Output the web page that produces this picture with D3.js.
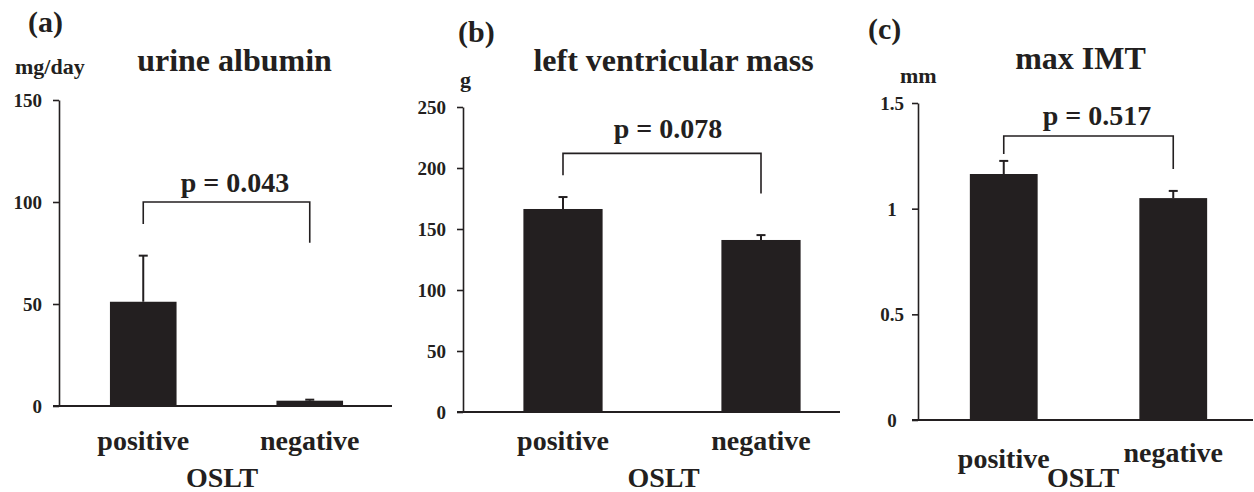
<!DOCTYPE html>
<html>
<head>
<meta charset="utf-8">
<script src="https://cdn.jsdelivr.net/npm/d3@7"></script>
</head>
<body style="margin:0;padding:0;background:#fff">
<svg id="chart" width="1254" height="492"></svg>
<script>
// ---- data ----
const categories = ["positive", "negative"];
const panelLabels = ["(a)", "(b)", "(c)"];
const titles = ["urine albumin", "left ventricular mass", "max IMT"];
const units = ["mg/day", "g", "mm"];
const xAxisTitle = "OSLT";

const albuminMean = [51.1, 2.6];
const albuminSem = [22.6, 0.5];
const lvMassMean = [166.4, 141];
const lvMassSem = [9.8, 4];
const imtMean = [1.164, 1.05];
const imtSem = [0.062, 0.034];

const albuminTicks = [0, 50, 100, 150];
const lvMassTicks = [0, 50, 100, 150, 200, 250];
const imtTicks = [0, 0.5, 1, 1.5];

const pValues = ["p = 0.043", "p = 0.078", "p = 0.517"];
// bracket: [top, left leg end, right leg end] in data units
const albuminBracket = [100, 89.2, 80];
const lvMassBracket = [212, 194, 179];
const imtBracket = [1.344, 1.259, 1.188];

// ---- layout (pixels) ----
const ink = "#231f20";
const FONT = "'Liberation Serif', 'Times New Roman', Times, serif";
const panels = [
  { mean: albuminMean, sem: albuminSem, ticks: albuminTicks, bracket: albuminBracket,
    xRange: [60, 393], axisRight: 392, yRange: [406, 100], tickAnchor: "end", tickX: -17,
    label: [28, 32], unit: [15, 74], title: [234.5, 71], p: [235, 192],
    catY: [450, 450], oslt: [222, 487] },
  { mean: lvMassMean, sem: lvMassSem, ticks: lvMassTicks, bracket: lvMassBracket,
    xRange: [464, 860], axisRight: 840, yRange: [412, 107], tickAnchor: "end", tickX: -17,
    label: [458, 42], unit: [460, 87], title: [673.5, 71], p: [668, 138],
    catY: [450, 450], oslt: [663.5, 487] },
  { mean: imtMean, sem: imtSem, ticks: imtTicks, bracket: imtBracket,
    xRange: [919, 1258], axisRight: 1253, yRange: [420, 103], tickAnchor: "middle", tickX: -26,
    label: [868, 39], unit: [900, 83], title: [1080.5, 69], p: [1097, 125],
    catY: [468, 462], oslt: [1083, 487] }
];

const svg = d3.select("#chart");

function txt(sel, size) {
  return sel.attr("font-family", FONT).attr("font-weight", "bold")
    .attr("font-size", size).attr("fill", ink)
    .style("font-family", FONT).style("font-weight", "bold").style("font-size", size + "px");
}

panels.forEach((P, i) => {
  const g = svg.append("g");
  const x = d3.scaleBand().domain(categories).range(P.xRange).paddingInner(0.6).paddingOuter(0.3);
  const yMax = P.ticks[P.ticks.length - 1];
  const y = d3.scaleLinear().domain([0, yMax]).range(P.yRange);
  const axisX = P.xRange[0] - 1;

  // bars
  g.selectAll("rect.bar").data(categories).enter().append("rect")
    .attr("class", "bar")
    .attr("x", d => x(d)).attr("width", x.bandwidth())
    .attr("y", (d, j) => y(P.mean[j]))
    .attr("height", (d, j) => y(0) - y(P.mean[j]))
    .attr("fill", ink);

  // error bars
  categories.forEach((c, j) => {
    const cx = x(c) + x.bandwidth() / 2;
    const top = y(P.mean[j] + P.sem[j]);
    g.append("line").attr("x1", cx).attr("x2", cx)
      .attr("y1", y(P.mean[j])).attr("y2", top)
      .attr("stroke", ink).attr("stroke-width", 2);
    g.append("line").attr("x1", cx - 4.5).attr("x2", cx + 4.5)
      .attr("y1", top).attr("y2", top)
      .attr("stroke", ink).attr("stroke-width", 2);
  });

  // y axis
  const yAxis = d3.axisLeft(y).tickValues(P.ticks).tickSize(6).tickSizeOuter(0)
    .tickFormat(d3.format("~g"));
  const ya = g.append("g").attr("transform", `translate(${axisX},0)`).call(yAxis);
  ya.attr("font-family", null);
  ya.select(".domain").attr("stroke", ink).attr("stroke-width", 1.6);
  ya.selectAll(".tick line").attr("stroke", ink).attr("stroke-width", 1.6);
  txt(ya.selectAll(".tick text"), 19)
    .attr("x", P.tickX).attr("dy", "0.34em")
    .attr("text-anchor", P.tickAnchor);

  // x axis baseline
  g.append("line").attr("x1", axisX - 6).attr("x2", P.axisRight)
    .attr("y1", y(0)).attr("y2", y(0)).attr("stroke", ink).attr("stroke-width", 1.8);

  // category labels
  categories.forEach((c, j) => {
    txt(g.append("text"), 28).attr("x", x(c) + x.bandwidth() / 2).attr("y", P.catY[j])
      .attr("text-anchor", "middle").text(c);
  });
  txt(g.append("text"), 28).attr("x", P.oslt[0]).attr("y", P.oslt[1])
    .attr("text-anchor", "middle").text(xAxisTitle);

  // bracket
  const lx = x(categories[0]) + x.bandwidth() / 2;
  const rx = x(categories[1]) + x.bandwidth() / 2;
  const path = d3.path();
  path.moveTo(lx, y(P.bracket[1]));
  path.lineTo(lx, y(P.bracket[0]));
  path.lineTo(rx, y(P.bracket[0]));
  path.lineTo(rx, y(P.bracket[2]));
  g.append("path").attr("d", path.toString()).attr("fill", "none")
    .attr("stroke", ink).attr("stroke-width", 1.6);
  txt(g.append("text"), 28).attr("x", P.p[0]).attr("y", P.p[1])
    .attr("text-anchor", "middle").text(pValues[i]);

  // titles & labels
  txt(g.append("text"), 32).attr("x", P.title[0]).attr("y", P.title[1])
    .attr("text-anchor", "middle").text(titles[i]);
  txt(g.append("text"), 30).attr("x", P.label[0]).attr("y", P.label[1])
    .text(panelLabels[i]);
  txt(g.append("text"), 22).attr("x", P.unit[0]).attr("y", P.unit[1])
    .text(units[i]);
});
</script>
</body>
</html>
